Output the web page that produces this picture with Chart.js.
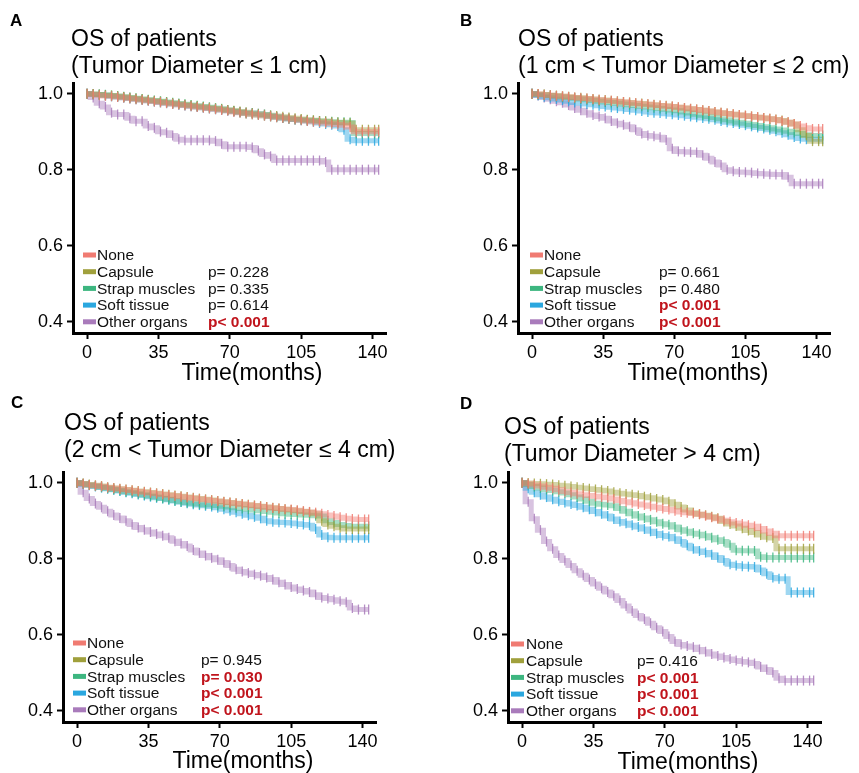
<!DOCTYPE html>
<html>
<head>
<meta charset="utf-8">
<script src="https://cdn.jsdelivr.net/npm/chart.js@4.4.0/dist/chart.umd.min.js"></script>
<style>
  body { margin: 0; background: #fff; font-family: "Liberation Sans", Arial, sans-serif; }
  #fig { position: relative; width: 859px; height: 773px; overflow: hidden; }
  canvas { position: absolute; }
  .letter { position: absolute; font-weight: bold; font-size: 17px; line-height: 17px; color: #000; }
  .title { position: absolute; font-size: 23px; line-height: 27px; white-space: nowrap; color: #000; }
  .xtitle { position: absolute; font-size: 23px; line-height: 23px; white-space: nowrap; color: #000; transform: translateX(-50%); }
</style>
</head>
<body>
<div id="fig"></div>
<script>
// months at which the survival curves are read
const TIME = [0, 3, 6, 9, 12, 15, 18, 21, 24, 27, 30, 33, 36, 39, 42, 45, 48, 51, 54, 57,
  60, 63, 66, 69, 72, 75, 78, 81, 84, 87, 90, 93, 96, 99, 102, 105, 108, 111, 114, 117,
  120, 123, 126, 129, 132, 135, 138, 141, 143];

const GROUPS = ['None', 'Capsule', 'Strap muscles', 'Soft tissue', 'Other organs'];
const COLORS = ['#F07B72', '#A0A03C', '#3DB680', '#2AA7DF', '#A97BBB'];
const X_TICKS = [0, 35, 70, 105, 140];
const Y_TICKS = [0.4, 0.6, 0.8, 1.0];

// A: Tumor Diameter <= 1 cm
const A_NONE = [1.000, .998, .996, .994, .993, .991, .989, .987, .985, .983,
  .981, .979, .977, .975, .973, .971, .969, .967, .965, .963,
  .961, .959, .957, .955, .952, .950, .948, .946, .944, .942,
  .940, .938, .936, .934, .932, .930, .928, .926, .925, .923,
  .921, .919, .917, .912, .900, .900, .900, .900, .900];
const A_CAPSULE = [1.000, .999, .998, .996, .995, .993, .991, .989, .987, .985,
  .983, .981, .979, .977, .975, .973, .971, .969, .967, .965,
  .963, .961, .959, .957, .955, .953, .951, .949, .947, .945,
  .943, .941, .939, .937, .935, .933, .931, .930, .928, .927,
  .925, .924, .923, .922, .905, .905, .905, .905, .905];
const A_STRAP = [1.000, .999, .998, .997, .995, .994, .992, .990, .988, .986,
  .984, .982, .980, .978, .976, .974, .972, .970, .968, .966,
  .964, .962, .960, .957, .954, .951, .948, .946, .944, .942,
  .940, .938, .936, .934, .932, .931, .930, .929, .928, .927,
  .926, .925, .925, .924, .895, .895, .895, .895, .895];
const A_SOFT = [1.000, .998, .997, .995, .993, .991, .989, .987, .985, .983,
  .981, .979, .977, .975, .973, .971, .969, .967, .965, .963,
  .961, .959, .957, .955, .953, .951, .950, .949, .947, .945,
  .942, .939, .936, .934, .932, .930, .928, .926, .923, .920,
  .918, .915, .905, .880, .876, .876, .876, .876, .876];
const A_OTHER = [1.000, .990, .975, .965, .950, .945, .945, .935, .927, .927,
  .915, .910, .900, .897, .890, .880, .877, .877, .877, .877,
  .877, .875, .868, .860, .860, .860, .860, .858, .850, .840,
  .835, .824, .824, .824, .824, .824, .824, .824, .824, .820,
  .800, .800, .800, .800, .800, .800, .800, .800, .800];

// B: 1 cm < Tumor Diameter <= 2 cm
const B_NONE = [1.000, .999, .997, .996, .994, .993, .991, .990, .988, .987,
  .985, .984, .982, .981, .979, .978, .976, .975, .973, .972,
  .970, .969, .967, .966, .964, .962, .960, .958, .956, .954,
  .952, .950, .948, .946, .944, .942, .940, .938, .936, .934,
  .931, .928, .925, .920, .915, .910, .907, .907, .907];
const B_CAPSULE = [1.000, .999, .998, .996, .995, .993, .992, .990, .989, .987,
  .986, .984, .983, .981, .980, .978, .977, .975, .974, .972,
  .971, .969, .968, .966, .964, .962, .960, .958, .956, .954,
  .952, .950, .948, .946, .944, .942, .940, .938, .936, .934,
  .932, .929, .925, .920, .905, .890, .875, .875, .875];
const B_STRAP = [1.000, .998, .997, .995, .993, .991, .990, .988, .986, .984,
  .982, .980, .978, .977, .975, .973, .971, .969, .967, .965,
  .963, .961, .959, .957, .955, .952, .949, .946, .943, .940,
  .937, .934, .931, .928, .925, .922, .919, .916, .913, .910,
  .907, .904, .901, .898, .895, .892, .890, .890, .890];
const B_SOFT = [1.000, .996, .992, .989, .986, .983, .980, .977, .975, .973,
  .971, .968, .966, .964, .962, .960, .958, .956, .954, .952,
  .950, .949, .947, .946, .944, .942, .940, .938, .936, .934,
  .931, .928, .925, .923, .920, .917, .914, .911, .908, .905,
  .901, .897, .892, .886, .882, .880, .880, .880, .880];
const B_OTHER = [1.000, .995, .990, .985, .980, .976, .970, .962, .956, .950,
  .944, .940, .935, .928, .922, .918, .913, .905, .895, .890,
  .888, .885, .878, .855, .848, .847, .846, .845, .838, .830,
  .820, .812, .800, .796, .794, .793, .792, .790, .789, .788,
  .787, .787, .780, .763, .763, .763, .763, .763, .763];

// C: 2 cm < Tumor Diameter <= 4 cm
const C_NONE = [1.000, .997, .994, .992, .990, .987, .985, .983, .981, .979,
  .977, .975, .973, .971, .969, .967, .965, .963, .961, .959,
  .957, .955, .953, .951, .949, .947, .945, .943, .941, .939,
  .937, .935, .933, .932, .930, .929, .927, .925, .923, .921,
  .918, .915, .912, .909, .906, .904, .903, .903, .903];
const C_CAPSULE = [1.000, .998, .995, .993, .991, .988, .986, .984, .982, .980,
  .978, .976, .974, .972, .970, .968, .966, .964, .962, .960,
  .958, .956, .954, .952, .950, .948, .946, .944, .942, .940,
  .938, .936, .934, .932, .930, .928, .926, .924, .922, .918,
  .900, .890, .885, .881, .878, .878, .878, .878, .878];
const C_STRAP = [1.000, .997, .994, .991, .988, .985, .982, .979, .976, .974,
  .971, .968, .965, .962, .959, .956, .953, .950, .948, .946,
  .944, .942, .941, .940, .938, .936, .934, .932, .930, .928,
  .926, .924, .922, .920, .918, .917, .916, .915, .914, .913,
  .912, .900, .895, .890, .887, .885, .885, .885, .885];
const C_SOFT = [1.000, .996, .993, .990, .987, .984, .981, .978, .975, .972,
  .969, .966, .963, .960, .958, .955, .952, .949, .946, .943,
  .941, .939, .937, .934, .930, .926, .922, .918, .914, .910,
  .906, .900, .897, .896, .895, .894, .892, .890, .888, .878,
  .862, .856, .855, .855, .855, .855, .855, .855, .855];
const C_OTHER = [1.000, .975, .958, .945, .935, .925, .915, .907, .900, .890,
  .882, .876, .870, .865, .860, .855, .846, .840, .833, .823,
  .815, .808, .802, .797, .790, .782, .772, .766, .762, .758,
  .755, .750, .745, .738, .732, .725, .720, .716, .712, .705,
  .698, .695, .692, .688, .685, .670, .666, .666, .666];

// D: Tumor Diameter > 4 cm
const D_NONE = [1.000, .997, .994, .991, .988, .985, .981, .977, .974, .971,
  .968, .966, .964, .962, .960, .957, .953, .950, .947, .944,
  .941, .938, .935, .932, .929, .926, .923, .921, .919, .917,
  .913, .909, .905, .901, .897, .894, .891, .888, .885, .879,
  .873, .867, .860, .860, .860, .860, .860, .860, .860];
const D_CAPSULE = [1.000, .999, .998, .997, .996, .995, .993, .992, .990, .988,
  .986, .984, .982, .980, .978, .975, .972, .970, .968, .966,
  .963, .960, .957, .954, .950, .943, .936, .928, .921, .917,
  .914, .910, .906, .898, .891, .886, .880, .874, .869, .862,
  .856, .854, .826, .826, .826, .826, .826, .826, .826];
const D_STRAP = [1.000, .995, .990, .986, .982, .979, .976, .973, .968, .962,
  .957, .951, .946, .943, .941, .939, .932, .925, .918, .912,
  .907, .902, .897, .892, .889, .883, .876, .872, .867, .864,
  .860, .855, .850, .845, .835, .822, .821, .821, .820, .805,
  .803, .803, .803, .803, .803, .803, .803, .803, .803];
const D_SOFT = [1.000, .985, .975, .968, .962, .956, .951, .948, .944, .940,
  .935, .930, .924, .918, .912, .904, .898, .893, .888, .883,
  .878, .872, .866, .861, .858, .852, .845, .835, .826, .820,
  .816, .810, .803, .795, .785, .782, .780, .779, .778, .770,
  .760, .750, .747, .747, .711, .711, .711, .711, .711];
const D_OTHER = [1.000, .950, .905, .875, .845, .826, .808, .795, .782, .768,
  .756, .745, .733, .722, .712, .702, .690, .675, .662, .650,
  .641, .630, .618, .608, .595, .582, .574, .570, .567, .561,
  .555, .549, .544, .540, .536, .532, .529, .527, .524, .515,
  .508, .500, .485, .479, .479, .479, .479, .479, .479];

// log-rank p values vs None (first group has none)
const P_A = ['', 'p= 0.228', 'p= 0.335', 'p= 0.614', 'p< 0.001'];
const P_B = ['', 'p= 0.661', 'p= 0.480', 'p< 0.001', 'p< 0.001'];
const P_C = ['', 'p= 0.945', 'p= 0.030', 'p< 0.001', 'p< 0.001'];
const P_D = ['', 'p= 0.416', 'p< 0.001', 'p< 0.001', 'p< 0.001'];
const SIG_A = [false, false, false, false, true];
const SIG_B = [false, false, false, true, true];
const SIG_C = [false, false, true, true, true];
const SIG_D = [false, false, true, true, true];

const TITLES = [
  ['OS of patients', '(Tumor Diameter \u2264 1 cm)'],
  ['OS of patients', '(1 cm < Tumor Diameter \u2264 2 cm)'],
  ['OS of patients', '(2 cm < Tumor Diameter \u2264 4 cm)'],
  ['OS of patients', '(Tumor Diameter > 4 cm)']
];

const FONT = '"Liberation Sans", Arial, sans-serif';

function rgba(hex, a) {
  const n = parseInt(hex.slice(1), 16);
  return `rgba(${(n >> 16) & 255}, ${(n >> 8) & 255}, ${n & 255}, ${a})`;
}

// legend + p values drawn inside the plot panel, bottom-left
const kmLegend = {
  id: 'kmLegend',
  afterDraw(chart, args, opts) {
    const ctx = chart.ctx;
    const area = chart.chartArea;
    ctx.save();
    ctx.textBaseline = 'middle';
    chart.data.datasets.forEach((ds, i) => {
      const y = area.bottom - opts.rowTop + i * 16.7;
      ctx.fillStyle = ds.swatch;
      ctx.fillRect(area.left + opts.sx, y - 2.5, 13, 5);
      ctx.font = '15.5px ' + FONT;
      ctx.fillStyle = '#111';
      ctx.fillText(ds.label, area.left + opts.tx, y + 1);
      if (ds.pText) {
        ctx.font = (ds.sig ? 'bold ' : '') + '15.5px ' + FONT;
        ctx.fillStyle = ds.sig ? '#C0141C' : '#111';
        ctx.fillText(ds.pText, area.left + opts.px, y + 1);
      }
    });
    ctx.restore();
  }
};

const fig = document.getElementById('fig');

function addText(cls, html, left, top) {
  const d = document.createElement('div');
  d.className = cls;
  d.innerHTML = html;
  d.style.left = left + 'px';
  d.style.top = top + 'px';
  fig.appendChild(d);
}

function makePanel(p) {
  const canvas = document.createElement('canvas');
  canvas.width = p.w;
  canvas.height = p.h;
  canvas.style.left = p.x + 'px';
  canvas.style.top = p.y + 'px';
  canvas.style.width = p.w + 'px';
  canvas.style.height = p.h + 'px';
  fig.appendChild(canvas);

  const datasets = GROUPS.map((g, i) => ({
    label: g,
    data: TIME.map((t, k) => ({ x: t, y: p.series[i][k] })),
    borderColor: rgba(COLORS[i], 0.45),
    borderWidth: 5,
    stepped: 'middle',
    fill: false,
    pointStyle: 'line',
    rotation: 90,
    pointRadius: 5,
    pointBorderWidth: 1.3,
    pointBorderColor: rgba(COLORS[i], 0.85),
    pointBackgroundColor: rgba(COLORS[i], 0.85),
    swatch: COLORS[i],
    pText: p.pvals[i],
    sig: p.sig[i]
  }));

  new Chart(canvas.getContext('2d'), {
    type: 'line',
    data: { datasets: datasets },
    options: {
      responsive: false,
      animation: false,
      devicePixelRatio: 1,
      layout: { padding: { left: p.L - 50, top: p.T, right: p.w - p.R, bottom: p.h - p.B - 30 } },
      plugins: {
        legend: { display: false },
        tooltip: { enabled: false },
        kmLegend: p.legend
      },
      scales: {
        x: {
          type: 'linear',
          min: -6.9,
          max: 146.6,
          afterBuildTicks: s => { s.ticks = X_TICKS.map(v => ({ value: v })); },
          afterFit: s => { s.height = 30; },
          grid: { drawOnChartArea: false, color: '#000', tickColor: '#000', tickLength: 6, tickWidth: 2 },
          border: { display: true, color: '#000', width: 3 },
          ticks: { color: '#000', font: { size: 18, family: FONT }, padding: 3, maxRotation: 0, autoSkip: false }
        },
        y: {
          type: 'linear',
          min: 0.37,
          max: 1.028,
          afterBuildTicks: s => { s.ticks = Y_TICKS.map(v => ({ value: v })); },
          afterFit: s => { s.width = 50; },
          grid: { drawOnChartArea: false, color: '#000', tickColor: '#000', tickLength: 6, tickWidth: 2 },
          border: { display: true, color: '#000', width: 3 },
          ticks: { color: '#000', font: { size: 18, family: FONT }, padding: 4, callback: v => v.toFixed(1) }
        }
      }
    },
    plugins: [kmLegend]
  });

  addText('letter', p.letter, p.x + p.letterX, p.y + p.letterY);
  addText('title', TITLES[p.idx].join('<br>'), p.x + p.titleX, p.y + p.titleY);
  addText('xtitle', 'Time(months)', p.x + p.xtX, p.y + p.xtY);
}

const PANELS = [
  { idx: 0, letter: 'A', x: 0, y: 0, w: 430, h: 390, L: 73, T: 83, R: 386, B: 333,
    series: [A_NONE, A_CAPSULE, A_STRAP, A_SOFT, A_OTHER], pvals: P_A, sig: SIG_A,
    legend: { rowTop: 78, sx: 10, tx: 24, px: 135 },
    letterX: 10, letterY: 12, titleX: 71, titleY: 25, xtX: 252, xtY: 361 },
  { idx: 1, letter: 'B', x: 430, y: 0, w: 429, h: 390, L: 88, T: 83, R: 400, B: 333,
    series: [B_NONE, B_CAPSULE, B_STRAP, B_SOFT, B_OTHER], pvals: P_B, sig: SIG_B,
    legend: { rowTop: 78, sx: 12, tx: 26, px: 141 },
    letterX: 30, letterY: 12, titleX: 88, titleY: 25, xtX: 268, xtY: 361 },
  { idx: 2, letter: 'C', x: 0, y: 390, w: 430, h: 383, L: 63, T: 82, R: 376, B: 332,
    series: [C_NONE, C_CAPSULE, C_STRAP, C_SOFT, C_OTHER], pvals: P_C, sig: SIG_C,
    legend: { rowTop: 79, sx: 10, tx: 24, px: 138 },
    letterX: 11, letterY: 4, titleX: 64, titleY: 19, xtX: 243, xtY: 359 },
  { idx: 3, letter: 'D', x: 430, y: 390, w: 429, h: 383, L: 78, T: 82, R: 391, B: 332,
    series: [D_NONE, D_CAPSULE, D_STRAP, D_SOFT, D_OTHER], pvals: P_D, sig: SIG_D,
    legend: { rowTop: 78, sx: 3, tx: 18, px: 129 },
    letterX: 30, letterY: 5, titleX: 74, titleY: 23, xtX: 258, xtY: 360 }
];

PANELS.forEach(makePanel);
</script>
</body>
</html>
